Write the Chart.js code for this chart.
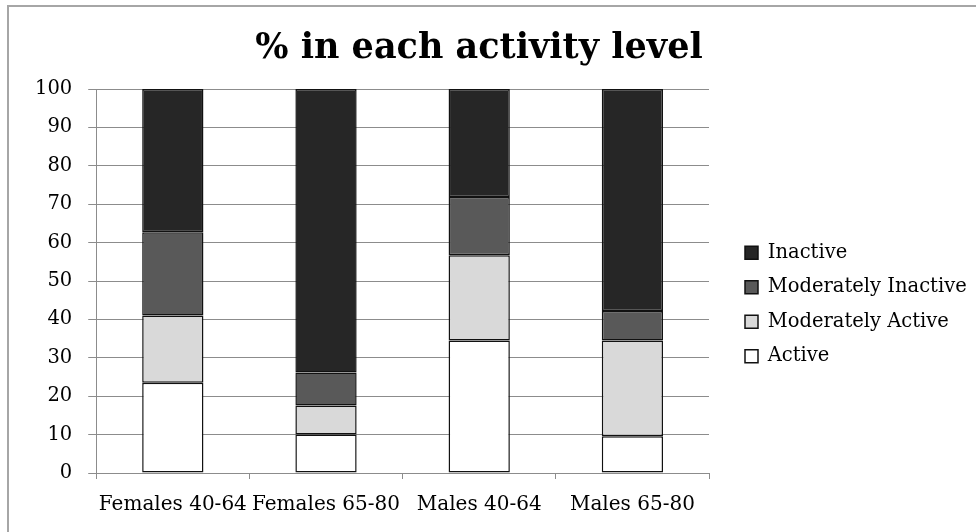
<!DOCTYPE html>
<html>
<head>
<meta charset="utf-8">
<script src="https://cdn.jsdelivr.net/npm/chart.js@4/dist/chart.umd.min.js"></script>
<style>
  html, body { margin: 0; padding: 0; background: #fff; }
  #wrap { width: 976px; height: 532px; position: relative; }
</style>
</head>
<body>
<div id="wrap"><canvas id="myChart"></canvas></div>
<script>
const groups = ["Females 40-64", "Females 65-80", "Males 40-64", "Males 65-80"];
const active = [23.5, 10.0, 34.5, 9.6];
const modActive = [17.5, 7.6, 22.2, 24.9];
const modInactive = [21.7, 8.6, 15.2, 7.7];
const inactive = [37.3, 73.8, 28.1, 57.8];
const yTicks = [0, 10, 20, 30, 40, 50, 60, 70, 80, 90, 100];

const serif = "'DejaVu Serif', serif";

// grey frame round the chart (top and left edges only show in the picture)
const frame = {
  id: "frame",
  beforeDraw(chart) {
    const ctx = chart.ctx;
    ctx.save();
    ctx.strokeStyle = "#a6a6a6";
    ctx.lineWidth = 2;
    ctx.beginPath();
    ctx.moveTo(8, 540);
    ctx.lineTo(8, 6);
    ctx.lineTo(990, 6);
    ctx.stroke();
    ctx.restore();
  }
};

// legend sits a bit further right than chart.js puts it
const legendSpot = {
  id: "legendSpot",
  afterLayout(chart) {
    const lg = chart.legend;
    lg.left = 730;
    lg.right = chart.width;
    lg.width = lg.right - lg.left;
    lg.top = 89;
    lg.bottom = 520;
    lg.height = lg.bottom - lg.top;
  }
};

function ds(label, data, color) {
  return {
    label: label,
    data: data,
    backgroundColor: color,
    borderColor: "#111",
    borderWidth: 1.5,
    borderSkipped: false,
    barPercentage: 0.4,
    categoryPercentage: 1
  };
}

const ctx = document.getElementById("myChart").getContext("2d");
new Chart(ctx, {
  type: "bar",
  data: {
    labels: groups,
    datasets: [
      ds("Active", active, "#ffffff"),
      ds("Moderately Active", modActive, "#d9d9d9"),
      ds("Moderately Inactive", modInactive, "#595959"),
      ds("Inactive", inactive, "#262626")
    ]
  },
  options: {
    responsive: true,
    maintainAspectRatio: false,
    animation: false,
    layout: { padding: { top: 28, left: 19, right: 37, bottom: 1 } },
    plugins: {
      title: {
        display: true,
        text: "% in each activity level",
        color: "#000",
        font: { family: serif, size: 35, weight: "bold" },
        padding: { top: 0, bottom: 19 }
      },
      legend: {
        position: "right",
        reverse: true,
        labels: {
          color: "#000",
          font: { family: serif, size: 19.5 },
          boxWidth: 13,
          boxHeight: 13,
          padding: 15
        }
      },
      tooltip: { enabled: false }
    },
    scales: {
      x: {
        stacked: true,
        grid: {
          display: true,
          drawOnChartArea: false,
          offset: true,
          color: "#8c8c8c",
          tickLength: 6
        },
        border: { color: "#8c8c8c" },
        ticks: {
          color: "#000",
          font: { family: serif, size: 20 },
          padding: 14,
          maxRotation: 0,
          autoSkip: false
        }
      },
      y: {
        stacked: true,
        min: 0,
        max: 100,
        afterBuildTicks: (scale) => { scale.ticks = yTicks.map(v => ({ value: v })); },
        grid: { color: "#8c8c8c", tickLength: 8 },
        border: { color: "#8c8c8c" },
        ticks: {
          color: "#000",
          font: { family: serif, size: 19.5 },
          padding: 16
        }
      }
    }
  },
  plugins: [frame, legendSpot]
});
</script>
</body>
</html>
